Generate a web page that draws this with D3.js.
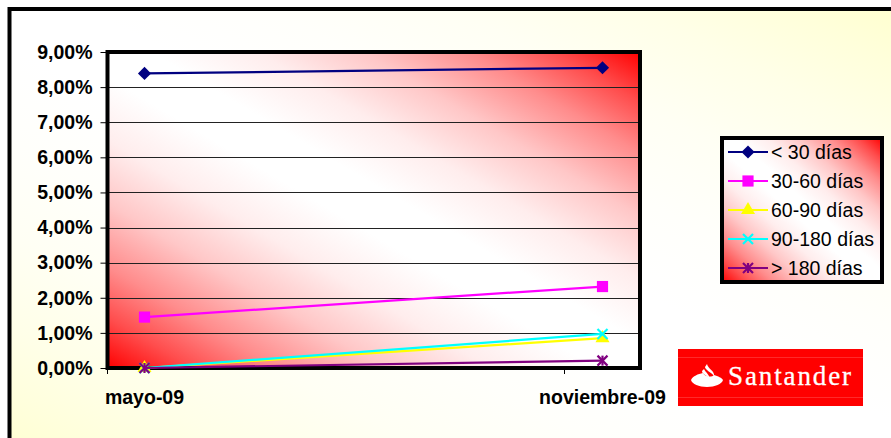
<!DOCTYPE html>
<html>
<head>
<meta charset="utf-8">
<script src="https://cdn.jsdelivr.net/npm/d3@7"></script>
<style>
    html, body { margin: 0; padding: 0; background: #fff; overflow: hidden; }
    svg { display: block; }
    text { font-family: "Liberation Sans", Arial, sans-serif; fill: #000; }
</style>
</head>
<body>
<svg id="chart" width="891" height="438"></svg>
<script>
// Values
const months = ["mayo-09", "noviembre-09"];
const yTicks = [0, 1, 2, 3, 4, 5, 6, 7, 8, 9];
const seriesNames = ["< 30 días", "30-60 días", "60-90 días", "90-180 días", "> 180 días"];
const under30 = [8.39, 8.55];
const from30to60 = [1.45, 2.32];
const from60to90 = [0, 0.85];
const from90to180 = [0, 0.97];
const over180 = [0, 0.21];

const seriesValues = [under30, from30to60, from60to90, from90to180, over180];
const seriesColors = ["#000080", "#ff00ff", "#ffff00", "#00ffff", "#800080"];
const seriesMarkers = ["diamond", "square", "triangle", "cross", "star"];

const svg = d3.select("#chart");
const defs = svg.append("defs");

// Diagonal gradient used by page, plot and legend, eased towards white in the middle
function addGradient(id, edge) {
    const g = defs.append("linearGradient")
        .attr("id", id)
        .attr("x1", 0).attr("y1", 1)
        .attr("x2", 1).attr("y2", 0);
    const mix = d3.interpolateRgb(edge, "#fff");
    [[0, 0], [0.08, 0.3], [0.16, 0.55], [0.26, 0.78], [0.36, 0.93], [0.46, 1],
     [0.54, 1], [0.64, 0.93], [0.74, 0.78], [0.84, 0.55], [0.92, 0.3], [1, 0]]
        .forEach(([offset, t]) => {
            g.append("stop").attr("offset", offset).attr("stop-color", mix(t));
        });
}
addGradient("pageFill", "#ffffcc");
addGradient("redFill", "#ff0000");

// Page frame runs past the right and bottom of the window
svg.append("rect")
    .attr("x", 9.5).attr("y", 9)
    .attr("width", 920).attr("height", 470)
    .attr("fill", "url(#pageFill)")
    .attr("stroke", "#000")
    .attr("stroke-width", 4);

const plot = { left: 107.5, right: 640, top: 52, bottom: 368 };

const x = d3.scalePoint().domain(months).range([144.5, 602.5]);
const y = d3.scaleLinear().domain([0, 9]).range([plot.bottom, plot.top]);

// Plot background
svg.append("rect")
    .attr("x", plot.left).attr("y", plot.top)
    .attr("width", plot.right - plot.left)
    .attr("height", plot.bottom - plot.top)
    .attr("fill", "url(#redFill)");

// Gridlines
svg.append("g")
    .selectAll("line")
    .data(yTicks.filter(d => d > 0 && d < 9))
    .join("line")
    .attr("x1", plot.left).attr("x2", plot.right)
    .attr("y1", d => Math.round(y(d)) + 0.5).attr("y2", d => Math.round(y(d)) + 0.5)
    .attr("stroke", "#222")
    .attr("stroke-width", 1);

// Y axis
const yAxis = svg.append("g")
    .attr("transform", `translate(${plot.left},0)`)
    .call(d3.axisLeft(y)
        .tickValues(yTicks)
        .tickSize(7)
        .tickPadding(8)
        .tickFormat(d => d3.format(".2f")(d).replace(".", ",") + "%"));
yAxis.select(".domain").remove();
yAxis.selectAll("line").attr("stroke", "#000");
yAxis.selectAll("text")
    .attr("fill", "#000")
    .style("font-family", '"Liberation Sans", Arial, sans-serif')
    .style("font-size", "19.5px")
    .style("font-weight", "bold");

// Month labels and the two small ticks under the plot
svg.append("g")
    .selectAll("text")
    .data(months)
    .join("text")
    .attr("x", d => x(d))
    .attr("y", 404)
    .attr("text-anchor", "middle")
    .style("font-size", "19.5px")
    .style("font-weight", "bold")
    .text(d => d);

svg.append("g")
    .selectAll("line")
    .data([plot.left, 564.5])
    .join("line")
    .attr("x1", d => d).attr("x2", d => d)
    .attr("y1", plot.bottom).attr("y2", plot.bottom + 6)
    .attr("stroke", "#000");

// Plot border goes over the fill and under the lines
svg.append("rect")
    .attr("x", plot.left).attr("y", plot.top)
    .attr("width", plot.right - plot.left)
    .attr("height", plot.bottom - plot.top)
    .attr("fill", "none")
    .attr("stroke", "#000")
    .attr("stroke-width", 4);

// Marker drawing, shared between plot and legend
function drawMarker(sel, kind, color) {
    if (kind === "diamond") {
        sel.append("path").attr("d", d3.symbol(d3.symbolDiamond2, 110)()).attr("fill", color);
    } else if (kind === "square") {
        sel.append("path").attr("d", d3.symbol(d3.symbolSquare, 125)()).attr("fill", color);
    } else if (kind === "triangle") {
        sel.append("path").attr("d", d3.symbol(d3.symbolTriangle, 85)()).attr("fill", color);
    } else {
        const r = 5;
        const spokes = kind === "cross"
            ? [[-r, -r, r, r], [-r, r, r, -r]]
            : [[-r, -r, r, r], [-r, r, r, -r], [0, -r, 0, r]];
        sel.selectAll("line")
            .data(spokes)
            .join("line")
            .attr("x1", d => d[0]).attr("y1", d => d[1])
            .attr("x2", d => d[2]).attr("y2", d => d[3])
            .attr("stroke", color)
            .attr("stroke-width", 2.2);
    }
}

const line = d3.line().x((d, i) => x(months[i])).y(d => y(d));

seriesValues.forEach((values, s) => {
    const group = svg.append("g");
    group.append("path")
        .datum(values)
        .attr("fill", "none")
        .attr("stroke", seriesColors[s])
        .attr("stroke-width", 2.2)
        .attr("d", line);
    values.forEach((v, i) => {
        const m = group.append("g").attr("transform", `translate(${x(months[i])},${y(v)})`);
        drawMarker(m, seriesMarkers[s], seriesColors[s]);
    });
});

// Legend
const legendBox = { x: 722, y: 138, w: 160, h: 144 };
svg.append("rect")
    .attr("x", legendBox.x).attr("y", legendBox.y)
    .attr("width", legendBox.w).attr("height", legendBox.h)
    .attr("fill", "url(#redFill)")
    .attr("stroke", "#000")
    .attr("stroke-width", 4);

const legendRow = d3.scalePoint().domain(seriesNames).range([152, 268]);
seriesNames.forEach((name, s) => {
    const row = svg.append("g").attr("transform", `translate(0,${legendRow(name)})`);
    row.append("line")
        .attr("x1", 728).attr("x2", 768)
        .attr("stroke", seriesColors[s])
        .attr("stroke-width", 2);
    drawMarker(row.append("g").attr("transform", "translate(748,0)"), seriesMarkers[s], seriesColors[s]);
    row.append("text")
        .attr("x", 771).attr("y", 7)
        .style("font-size", "19.5px")
        .text(name);
});

// Santander logo
const logo = svg.append("g").attr("transform", "translate(678,349)");
logo.append("rect").attr("width", 185).attr("height", 57).attr("fill", "#ff0000");
logo.selectAll("line")
    .data([8.5, 48.5])
    .join("line")
    .attr("x1", 0).attr("x2", 185)
    .attr("y1", d => d).attr("y2", d => d)
    .attr("stroke", "#ff2a2a");
logo.append("path")
    .attr("fill", "#fff")
    .attr("d", "M13,31 C15,27 20,25 25,24 C26,27 33,29 36,26 C40,27 44,29 45,31 C44,35 37,38 29,38 C21,38 14,35 13,31 Z");
logo.append("path")
    .attr("fill", "#fff")
    .attr("d", "M29,15 C30,20 37,22 36,27 C33,23 27,21 27,18 Z M26,20 C28,24 32,26 31,29 C28,26 24,25 24,22 Z");
logo.append("text")
    .attr("x", 50).attr("y", 36)
    .attr("textLength", 123)
    .attr("lengthAdjust", "spacing")
    .style("font-family", '"Liberation Serif", serif')
    .style("font-size", "27px")
    .style("fill", "#fff")
    .style("stroke", "#fff")
    .style("stroke-width", "0.3px")
    .text("Santander");
</script>
</body>
</html>
